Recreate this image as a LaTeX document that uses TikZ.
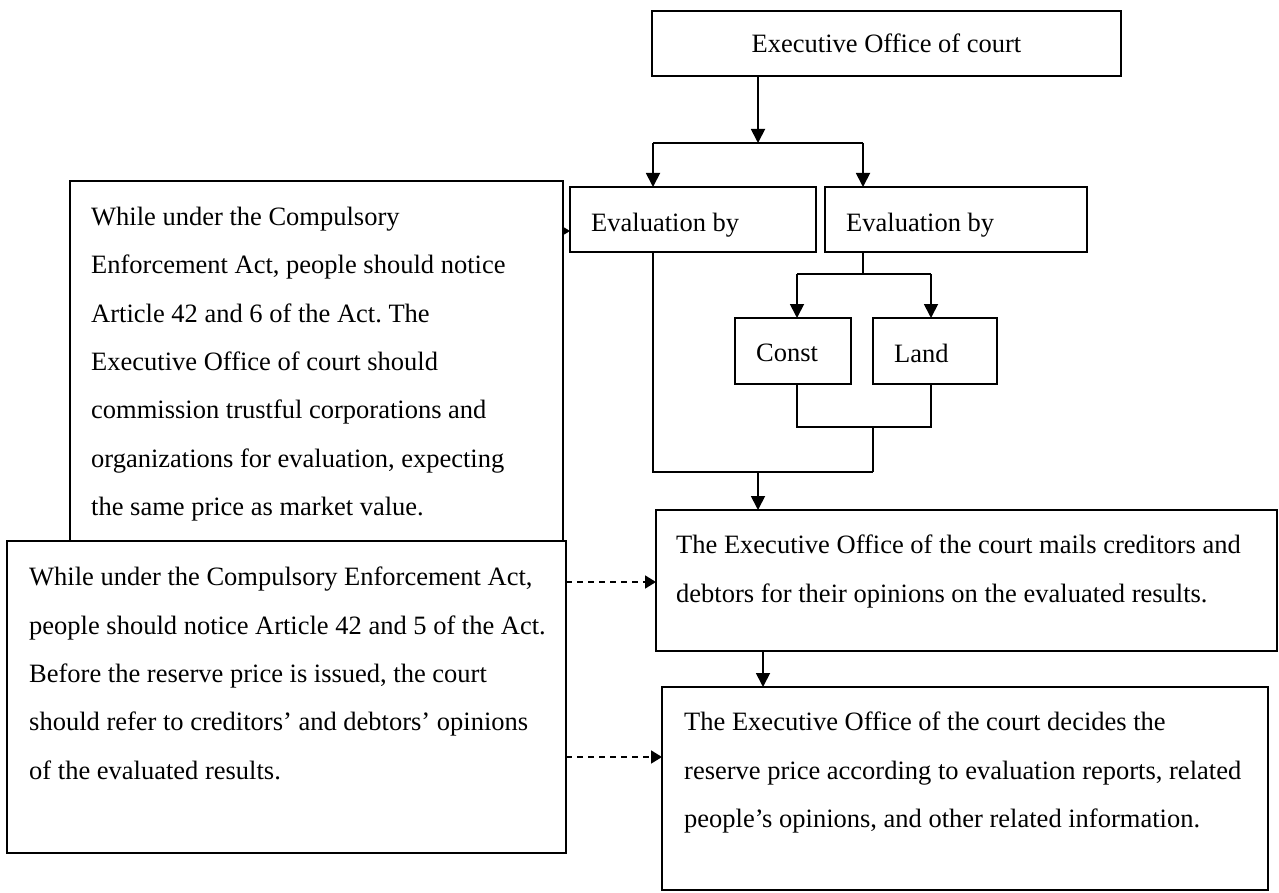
\documentclass[tikz,border=0pt]{standalone}
\usepackage{fontspec}
\setmainfont{Liberation Serif}
\usetikzlibrary{positioning,arrows.meta}
\frenchspacing

\begin{document}
\begin{tikzpicture}[x=1pt,y=-1pt,node distance=26pt and 21pt,
	box/.style 2 args={draw,line width=2pt,inner sep=0pt,outer sep=0pt,minimum width=#1,minimum height=#2},
	txt/.style={inner sep=0pt,align=left,font=\fontsize{26.5}{48.3}\selectfont},
	link/.style={line width=1.8pt},
	arr/.style={line width=1.8pt,-{Triangle[length=14pt,width=14pt]}},
	dasharr/.style={line width=1.8pt,dash pattern=on 6pt off 5pt,-{Triangle[length=11pt,width=13pt]}}]
	\useasboundingbox (0,0) rectangle (1279,893);

	% boxes
	\node[box={469pt}{65pt},txt]	(office)	at (886.5,43.5)	{Executive Office of court};
	\node[box={246pt}{65pt}]		(evalA)		at (693,219.5)	{};
	\node[box={262pt}{65pt}]		(evalB)		at (956,219.5)	{};
	\node[box={116pt}{66pt}]		(const)		at (793,351)	{};
	\node[box={124pt}{66pt}]		(land)		at (935,351)	{};
	\node[box={621pt}{141pt}]		(mails)		at (966.5,580.5) {};
	\node[box={606pt}{203pt}]		(decide)	at (965,788.5)	{};
	\node[box={493pt}{360pt}]		(note1)		at (316.5,361)	{};
	\node[box={559pt}{312pt}]		(note2)		at (286.5,697)	{};

	% texts
	\node[txt,below right=of evalA.north west]	(evalAtxt)	{Evaluation by};
	\node[txt,below right=of evalB.north west]	(evalBtxt)	{Evaluation by};
	\node[txt,below right=of const.north west]	(consttxt)	{Const};
	\node[txt,below right=of land.north west]	(landtxt)	{Land};
	\node[txt,below right=of note1.north west]	(note1txt)	{While under the Compulsory\\
		Enforcement Act, people should notice\\
		Article 42 and 6 of the Act. The\\
		Executive Office of court should\\
		commission trustful corporations and\\
		organizations for evaluation, expecting\\
		the same price as market value.};
	\node[txt,below right=26pt and 22pt of note2.north west]	(note2txt)	{While under the Compulsory Enforcement Act,\\
		people should notice Article 42 and 5 of the Act.\\
		Before the reserve price is issued, the court\\
		should refer to creditors’ and debtors’ opinions\\
		of the evaluated results.};
	\node[txt,below right=25pt and 20pt of mails.north west]	(mailstxt)	{The Executive Office of the court mails creditors and\\
		debtors for their opinions on the evaluated results.};
	\node[txt,below right=25pt and 22pt of decide.north west]	(decidetxt)	{The Executive Office of the court decides the\\
		reserve price according to evaluation reports, related\\
		people’s opinions, and other related information.};

	% junctions
	\coordinate (s1)	at (758,143);
	\coordinate (s1a)	at (653,143);
	\coordinate (s1b)	at (863,143);
	\coordinate (s2)	at (863,274);
	\coordinate (s2a)	at (797,274);
	\coordinate (s2b)	at (931,274);
	\coordinate (j1)	at (873,427);
	\coordinate (j2)	at (873,472);
	\coordinate (m1)	at (758,472);

	\draw[arr] (office.south -| s1) -- (s1);
	\draw[link] (s1a) -- (s1b);
	\draw[arr] (s1a) -- (evalA.north -| s1a);
	\draw[arr] (s1b) -- (evalB.north -| s1b);

	\draw[link] (evalB.south -| s2) -- (s2);
	\draw[link] (s2a) -- (s2b);
	\draw[arr] (s2a) -- (const.north -| s2a);
	\draw[arr] (s2b) -- (land.north -| s2b);

	\draw[link] (const.south -| s2a) |- (j1) -| (land.south -| s2b);
	\draw[link] (j1) -- (j2);
	\draw[link] (evalA.south -| s1a) |- (j2);
	\draw[arr] (m1) -- (mails.north -| m1);
	\draw[arr] (mails.south -| 763,0) -- (decide.north -| 763,0);

	\draw[line width=1pt,-{Triangle[length=6pt,width=7pt]}] (note1.east |- 0,231) -- (evalA.west |- 0,231);
	\draw[dasharr] (note2.east |- 0,582) -- (mails.west |- 0,582);
	\draw[dasharr] (note2.east |- 0,757) -- (decide.west |- 0,757);
\end{tikzpicture}
\end{document}
